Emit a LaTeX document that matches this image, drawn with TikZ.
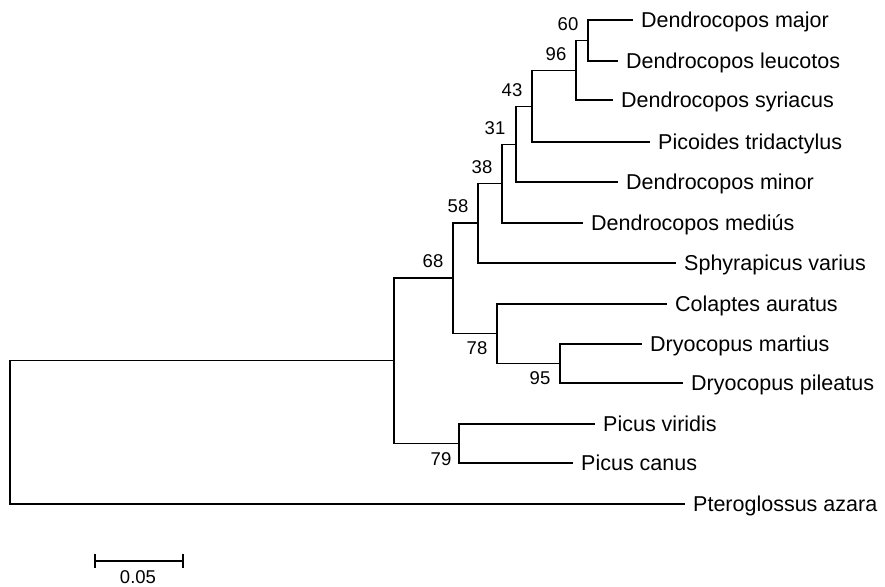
\documentclass[tikz,border=0pt]{standalone}
\usepackage{fontspec}
\setmainfont{Liberation Sans}
\begin{document}
\begin{tikzpicture}[x=1pt,y=-1pt,
  br/.style={line width=1.4pt, line join=miter},
  leaf/.style={anchor=base west, inner sep=0pt, xshift=8pt, yshift=-7.5pt, font=\fontsize{21.5}{24}\selectfont},
  bs/.style={inner sep=0pt, font=\fontsize{18.5}{20}\selectfont}]
\useasboundingbox (0,0) rectangle (885,586);
% internal nodes
\coordinate (R) at (10,432.5);
\coordinate (A) at (394,360.5);
\coordinate (n68) at (453,278);
\coordinate (n58) at (478,223);
\coordinate (n38) at (502,183.5);
\coordinate (n31) at (516,144.5);
\coordinate (n43) at (532,106.5);
\coordinate (n96) at (576,70.5);
\coordinate (n60) at (588,40.5);
\coordinate (n78) at (497,333.5);
\coordinate (n95) at (560,363.5);
\coordinate (n79) at (459,443.5);
% tips
\coordinate (tMaj) at (633,20);
\coordinate (tLeu) at (618,61);
\coordinate (tSyr) at (613,100);
\coordinate (tTri) at (650,142);
\coordinate (tMin) at (618,182);
\coordinate (tMed) at (583,223);
\coordinate (tVar) at (676,263);
\coordinate (tCol) at (667,304);
\coordinate (tMar) at (642,344);
\coordinate (tPil) at (683,383);
\coordinate (tVir) at (595,424);
\coordinate (tCan) at (573,463);
\coordinate (tPte) at (685,504);
% branches
\draw[br] (R) |- (A);
\draw[br] (R) |- (tPte);
\draw[br] (A) |- (n68);
\draw[br] (A) |- (n79);
\draw[br] (n68) |- (n58);
\draw[br] (n68) |- (n78);
\draw[br] (n58) |- (n38);
\draw[br] (n58) |- (tVar);
\draw[br] (n38) |- (n31);
\draw[br] (n38) |- (tMed);
\draw[br] (n31) |- (n43);
\draw[br] (n31) |- (tMin);
\draw[br] (n43) |- (n96);
\draw[br] (n43) |- (tTri);
\draw[br] (n96) |- (n60);
\draw[br] (n96) |- (tSyr);
\draw[br] (n60) |- (tMaj);
\draw[br] (n60) |- (tLeu);
\draw[br] (n78) |- (tCol);
\draw[br] (n78) |- (n95);
\draw[br] (n95) |- (tMar);
\draw[br] (n95) |- (tPil);
\draw[br] (n79) |- (tVir);
\draw[br] (n79) |- (tCan);
% leaf labels
\node[leaf] (lMaj) at (tMaj) {Dendrocopos major};
\node[leaf] (lLeu) at (tLeu) {Dendrocopos leucotos};
\node[leaf] (lSyr) at (tSyr) {Dendrocopos syriacus};
\node[leaf] (lTri) at (tTri) {Picoides tridactylus};
\node[leaf] (lMin) at (tMin) {Dendrocopos minor};
\node[leaf] (lMed) at (tMed) {Dendrocopos mediús};
\node[leaf] (lVar) at (tVar) {Sphyrapicus varius};
\node[leaf] (lCol) at (tCol) {Colaptes auratus};
\node[leaf] (lMar) at (tMar) {Dryocopus martius};
\node[leaf] (lPil) at (tPil) {Dryocopus pileatus};
\node[leaf] (lVir) at (tVir) {Picus viridis};
\node[leaf] (lCan) at (tCan) {Picus canus};
\node[leaf] (lPte) at (tPte) {Pteroglossus azara};
% bootstrap values
\node[bs] (b60) at ([shift={(-20,-16.5)}]n60) {60};
\node[bs] (b96) at ([shift={(-20,-16.5)}]n96) {96};
\node[bs] (b43) at ([shift={(-20,-16.5)}]n43) {43};
\node[bs] (b31) at ([shift={(-21,-16.5)}]n31) {31};
\node[bs] (b38) at ([shift={(-20,-16.5)}]n38) {38};
\node[bs] (b58) at ([shift={(-20,-17)}]n58) {58};
\node[bs] (b68) at ([shift={(-20,-16.5)}]n68) {68};
\node[bs] (b78) at ([shift={(-20,15)}]n78) {78};
\node[bs] (b95) at ([shift={(-20,15)}]n95) {95};
\node[bs] (b79) at ([shift={(-18,16)}]n79) {79};
% scale bar
\coordinate (s1) at (95,561);
\coordinate (s2) at (183,561);
\draw[br] (s1) -- (s2);
\draw[br] ([yshift=7pt]s1) -- ([yshift=-7pt]s1);
\draw[br] ([yshift=7pt]s2) -- ([yshift=-7pt]s2);
\node[bs] (sl) at (138,577) {0.05};
\end{tikzpicture}
\end{document}
